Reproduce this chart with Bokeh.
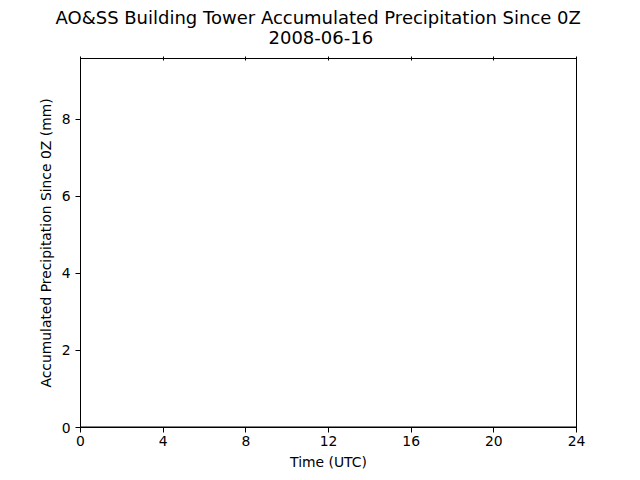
from bokeh.plotting import figure
from bokeh.models import LinearAxis, Range1d, FixedTicker, Title, CustomLabelingPolicy
from bokeh.embed import file_html
from bokeh.resources import INLINE

# Data: accumulated precipitation stays at zero all day
times_utc = [0, 1, 2, 3, 4, 5, 6, 7, 8, 9, 10, 11, 12, 13, 14, 15, 16, 17, 18, 19, 20, 21, 22, 23, 24]
precip_mm = [0, 0, 0, 0, 0, 0, 0, 0, 0, 0, 0, 0, 0, 0, 0, 0, 0, 0, 0, 0, 0, 0, 0, 0, 0]
x_ticks = [0, 4, 8, 12, 16, 20, 24]
y_ticks = [0, 2, 4, 6, 8]
title_line1 = "AO&SS Building Tower Accumulated Precipitation Since 0Z"
title_line2 = "2008-06-16"

FONT = "DejaVu Sans"

p = figure(width=640, height=480, output_backend="svg", toolbar_location=None,
           title=None,
           x_range=Range1d(0, 24), y_range=Range1d(0, 9.58),
           min_border_left=80, min_border_right=64, min_border_top=58, min_border_bottom=53,
           frame_width=496, frame_height=369)

p.grid.visible = False
p.outline_line_color = "black"
p.outline_line_width = 1
p.background_fill_color = "white"
p.border_fill_color = "white"

for ax in (p.xaxis[0], p.yaxis[0]):
    ax.axis_line_color = "black"
    ax.major_tick_line_color = "black"
    ax.minor_tick_line_color = None
    ax.major_tick_out = 5
    ax.major_tick_in = 0
    ax.major_label_text_font = FONT
    ax.major_label_text_font_size = "13.9px"
    ax.major_label_text_color = "black"
    ax.axis_label_text_font = FONT
    ax.axis_label_text_font_size = "13.9px"
    ax.axis_label_text_font_style = "normal"
    ax.axis_label_text_color = "black"

p.xaxis[0].ticker = FixedTicker(ticks=x_ticks)
p.yaxis[0].ticker = FixedTicker(ticks=y_ticks)
p.xaxis[0].axis_label = "Time (UTC)"
p.yaxis[0].axis_label = "Accumulated Precipitation Since 0Z (mm)"
p.xaxis[0].major_label_standoff = 3
p.xaxis[0].axis_label_standoff = 5
p.yaxis[0].major_label_standoff = 5
p.yaxis[0].axis_label_standoff = 5

top = LinearAxis(ticker=FixedTicker(ticks=x_ticks))
top.axis_line_color = "black"
top.major_tick_line_color = "black"
top.minor_tick_line_color = None
top.major_tick_in = 2
top.major_tick_out = 2
top.major_label_standoff = 0
top.major_label_policy = CustomLabelingPolicy(code="""
const ks = [...indices];
for (const i of ks) indices.unset(i);
return indices;
""")
p.add_layout(top, "above")

for txt, off, so in ((title_line2, 188, 3), (title_line1, -25, 0)):
    t = Title(text=txt, align="left", offset=off, text_font=FONT,
              text_font_size="18px", text_font_style="normal", text_color="black",
              standoff=so, text_line_height=1.0)
    p.add_layout(t, "above")

p.line(times_utc, precip_mm, line_color="black", line_width=2)

open("out.html", "w").write(file_html(p, INLINE))
